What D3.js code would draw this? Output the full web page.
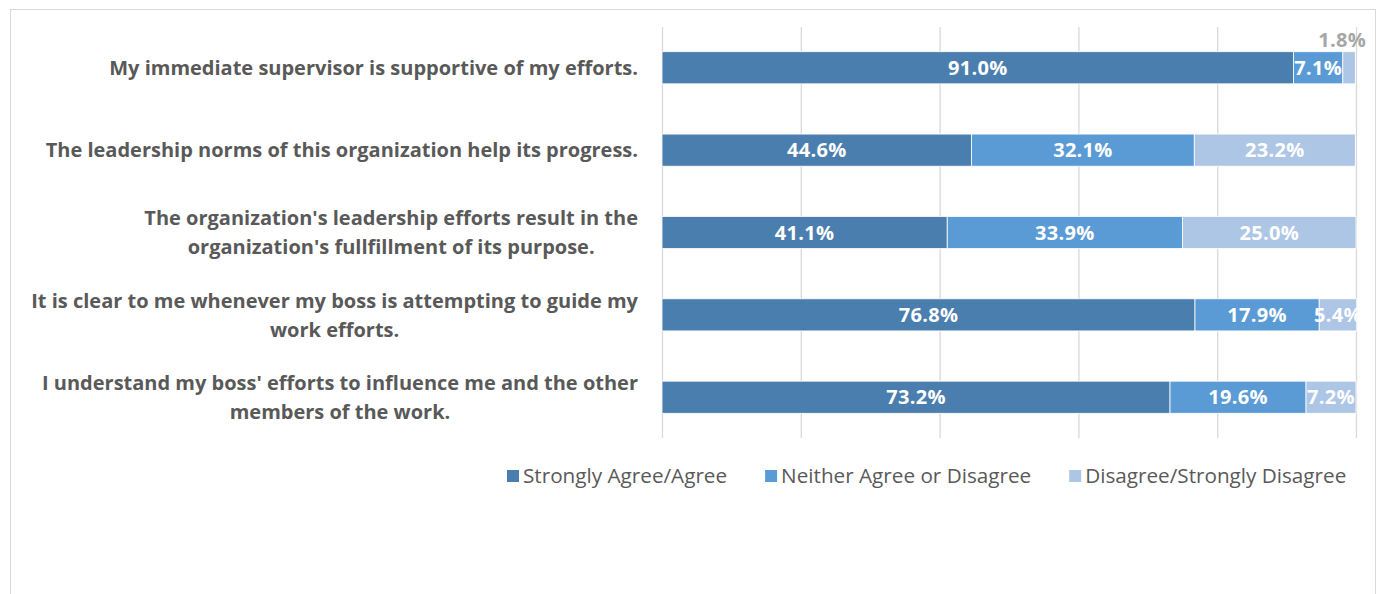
<!DOCTYPE html>
<html>
<head>
<meta charset="utf-8">
<script src="https://cdn.jsdelivr.net/npm/d3@7"></script>
<style>
  html, body { margin: 0; padding: 0; background: #fff; }
  svg { display: block; }
  text { font-family: "Open Sans", "Noto Sans", sans-serif; }
</style>
</head>
<body>
<svg id="chart" width="1384" height="594"></svg>
<script>
// Survey statements (top to bottom), each split into display lines
const statements = [
  ["My immediate supervisor is supportive of my efforts."],
  ["The leadership norms of this organization help its progress."],
  ["The organization's leadership efforts result in the", "organization's fullfillment of its purpose."],
  ["It is clear to me whenever my boss is attempting to guide my", "work efforts."],
  ["I understand my boss' efforts to influence me and the other", "members of the work."]
];
const seriesNames = ["Strongly Agree/Agree", "Neither Agree or Disagree", "Disagree/Strongly Disagree"];
const agree    = [91.0, 44.6, 41.1, 76.8, 73.2];
const neither  = [7.1, 32.1, 33.9, 17.9, 19.6];
const disagree = [1.8, 23.2, 25.0, 5.4, 7.2];
const xTicks = [0, 20, 40, 60, 80, 100];
const colors = ["#4a7eae", "#5b9bd5", "#adc6e6"];

const svg = d3.select("#chart");

// chart frame
svg.append("rect")
  .attr("x", 10.5).attr("y", 9.5)
  .attr("width", 1365).attr("height", 620)
  .attr("fill", "none").attr("stroke", "#d9d9d9").attr("stroke-width", 1);

const x = d3.scaleLinear().domain([0, 100]).range([662, 1356]);
const y = d3.scaleBand().domain(d3.range(statements.length))
  .range([27, 438]).paddingInner(0.61).paddingOuter(0.3);

// vertical gridlines
svg.append("g")
  .attr("transform", "translate(0,438)")
  .call(d3.axisBottom(x).tickValues(xTicks).tickSize(-411).tickFormat(""))
  .call(g => g.select(".domain").remove())
  .call(g => g.selectAll(".tick line").attr("stroke", "#d9d9d9").attr("stroke-width", 1.3));

const series = [agree, neither, disagree];
const rows = statements.map((s, i) => {
  let acc = 0;
  return series.map((vals, k) => {
    const seg = { row: i, k, v: vals[i], x0: acc, x1: acc + vals[i] };
    acc += vals[i];
    return seg;
  });
});
const segs = rows.flat();

svg.append("g").selectAll("rect")
  .data(segs).join("rect")
  .attr("x", d => x(d.x0))
  .attr("y", d => y(d.row))
  .attr("width", d => x(d.x1) - x(d.x0))
  .attr("height", y.bandwidth())
  .attr("fill", d => colors[d.k])
  .attr("stroke", "#fff").attr("stroke-width", 0.8);

// value labels (tiny segments get their label above the bar)
svg.append("g").selectAll("text")
  .data(segs).join("text")
  .attr("x", d => d.v < 3 ? x((d.x0 + d.x1) / 2) - 7 : x((d.x0 + d.x1) / 2))
  .attr("y", d => d.v < 3 ? y(d.row) - 5 : y(d.row) + y.bandwidth() / 2)
  .attr("dy", d => d.v < 3 ? "0" : "0.36em")
  .attr("text-anchor", "middle")
  .attr("font-size", 20).attr("font-weight", 700)
  .attr("letter-spacing", 0.3)
  .attr("fill", d => d.v < 3 ? "#a6a6a6" : "#fff")
  .text(d => d.v.toFixed(1) + "%");

// category labels: lines centered within a block right-aligned to the axis
const labelG = svg.append("g");
statements.forEach((lines, i) => {
  const g = labelG.append("g");
  const cy = y(i) + y.bandwidth() / 2;
  const lh = 29;
  const texts = lines.map((line, j) => g.append("text")
    .attr("y", cy + (j - (lines.length - 1) / 2) * lh)
    .attr("dy", "0.36em")
    .attr("font-size", 20).attr("font-weight", 700).attr("fill", "#595959")
    .text(line));
  const widths = texts.map(t => t.node().getComputedTextLength());
  const maxW = d3.max(widths);
  const right = x(0) - 24;
  texts.forEach(t => t.attr("x", right - maxW / 2).attr("text-anchor", "middle"));
});

// legend
const legend = svg.append("g").attr("transform", "translate(0,476)");
const items = legend.selectAll("g").data(seriesNames).join("g");
items.append("rect").attr("y", -6).attr("width", 12).attr("height", 12)
  .attr("fill", (d, i) => colors[i]);
items.append("text").attr("x", 16).attr("dy", "0.36em")
  .attr("font-size", 20.7)
  .attr("fill", "#595959").text(d => d);
let lx = 0;
const gap = 38;
const offsets = [];
items.each(function () {
  offsets.push(lx);
  lx += this.getBBox().width + gap;
});
const start = 507;
items.attr("transform", (d, i) => `translate(${start + offsets[i]},0)`);
</script>
</body>
</html>
